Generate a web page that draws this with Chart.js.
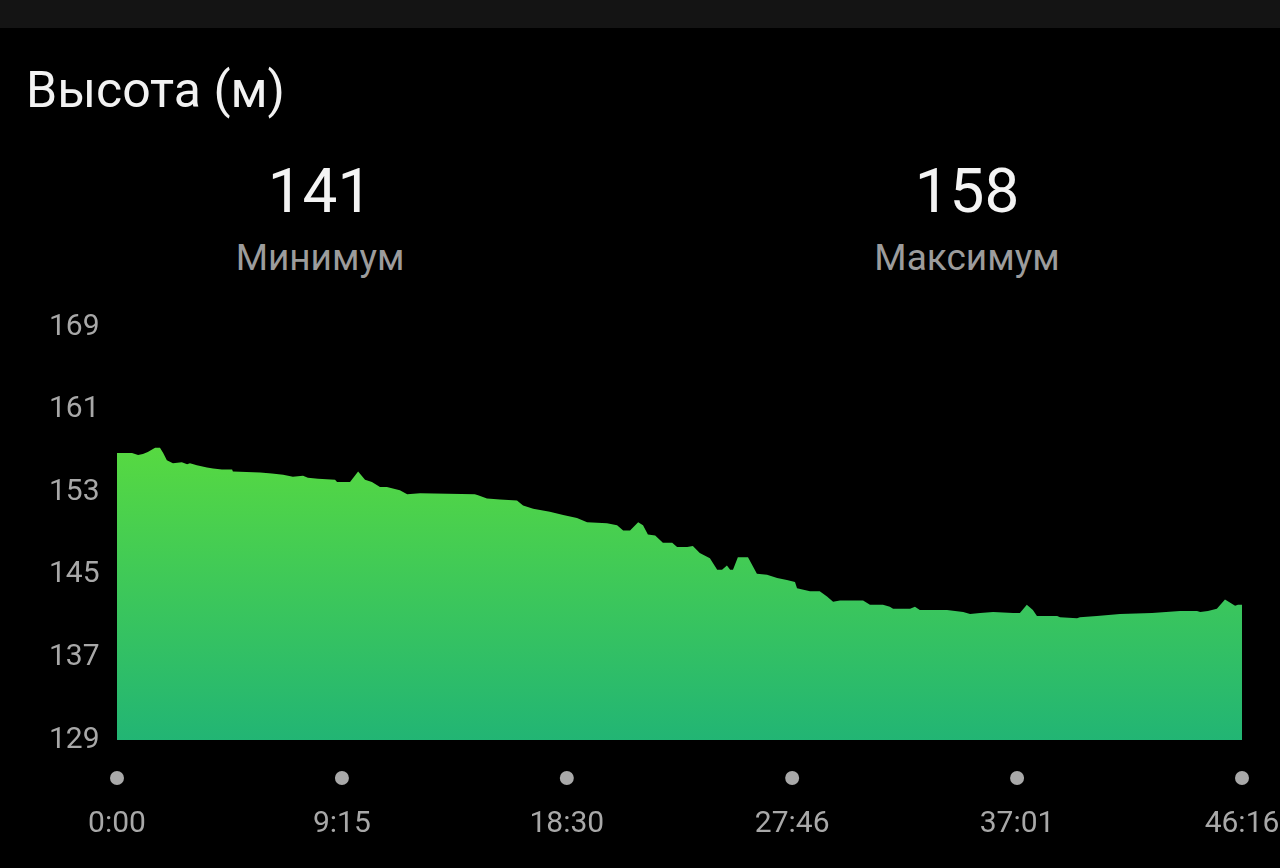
<!DOCTYPE html>
<html>
<head>
<meta charset="utf-8">
<script src="https://cdn.jsdelivr.net/npm/chart.js@4"></script>
<style>
  html, body { margin: 0; padding: 0; background: #000; width: 1280px; height: 868px; overflow: hidden; font-family: Roboto, sans-serif; }
  .strip { position: absolute; left: 0; top: 0; width: 1280px; height: 28px; background: #141414; }
  .title { position: absolute; left: 26px; top: 65px; font-size: 50px; line-height: 1; color: #f2f2f2; }
  .stat { position: absolute; width: 400px; text-align: center; }
  .stat .num { position: absolute; left: 0; width: 400px; top: 0; font-size: 62px; line-height: 1; color: #f4f4f4; }
  .stat .lbl { position: absolute; left: 0; width: 400px; top: 79px; font-size: 37px; line-height: 1; color: #9c9c9c; }
  #wrap { position: absolute; left: 0; top: 0; width: 1280px; height: 868px; }
</style>
</head>
<body>
<div class="strip"></div>
<div class="title">Высота (м)</div>
<div class="stat" style="left:120px; top:160px;"><div class="num">141</div><div class="lbl">Минимум</div></div>
<div class="stat" style="left:767px; top:160px;"><div class="num">158</div><div class="lbl">Максимум</div></div>
<div id="wrap"><canvas id="grafico"></canvas></div>
<script>
let ctx = document.getElementById('grafico')

// tempo em segundos desde o início
const tempos = [0, 37, 52, 64, 76, 94, 106, 114, 123, 138, 160, 173, 180, 197, 222, 237, 259, 284, 286,
  353, 382, 410, 434, 459, 471, 496, 538, 543, 575, 595, 612, 629, 649, 666, 698, 716, 748, 883, 891,
  913, 945, 987, 1002, 1027, 1068, 1101, 1135, 1160, 1209, 1234, 1249, 1266, 1286, 1298, 1310, 1328,
  1347, 1370, 1382, 1407, 1421, 1438, 1463, 1481, 1493, 1505, 1513, 1520, 1532, 1557, 1579, 1604,
  1629, 1653, 1673, 1678, 1710, 1734, 1752, 1767, 1784, 1841, 1858, 1890, 1907, 1915, 1957, 1969,
  1981, 2048, 2088, 2105, 2130, 2162, 2211, 2228, 2245, 2260, 2270, 2320, 2327, 2369, 2376, 2418,
  2475, 2554, 2623, 2665, 2673, 2692, 2714, 2734, 2751, 2759, 2766, 2776]

// altitude (m)
const altitudes = [156.8, 156.8, 156.6, 156.7, 156.9, 157.3, 157.3, 156.8, 156.1, 155.8, 155.9, 155.7, 155.8,
  155.6, 155.4, 155.3, 155.2, 155.2, 155.0, 154.9, 154.8, 154.7, 154.5, 154.6, 154.4, 154.3, 154.2,
  154.0, 154.0, 155.0, 154.2, 154.0, 153.5, 153.5, 153.2, 152.8, 152.9, 152.8, 152.7, 152.4, 152.3,
  152.2, 151.7, 151.4, 151.1, 150.8, 150.5, 150.1, 150.0, 149.8, 149.3, 149.3, 150.1, 149.8, 148.9,
  148.8, 148.1, 148.1, 147.7, 147.7, 147.8, 147.1, 146.6, 145.5, 145.5, 145.9, 145.5, 145.5, 146.7,
  146.7, 145.1, 145.0, 144.7, 144.5, 144.3, 143.7, 143.4, 143.4, 142.9, 142.4, 142.5, 142.5, 142.1,
  142.1, 141.9, 141.7, 141.7, 141.9, 141.6, 141.6, 141.4, 141.2, 141.3, 141.4, 141.3, 141.3, 142.1,
  141.6, 141.0, 141.0, 140.9, 140.8, 140.9, 141.0, 141.2, 141.3, 141.5, 141.5, 141.4, 141.5, 141.7,
  142.6, 142.2, 142.0, 142.1, 142.1]

const ticksX = [0, 555, 1110, 1666, 2221, 2776]
const rotulosX = ['0:00', '9:15', '18:30', '27:46', '37:01', '46:16']
const ticksY = [129, 137, 145, 153, 161, 169]

Chart.defaults.font.family = 'Roboto, sans-serif'
Chart.defaults.font.size = 30
Chart.defaults.color = '#a8a8a8'

// bolinhas embaixo de cada marca do eixo x
const pontosEixo = {
  id: 'pontosEixo',
  afterDraw(chart) {
    const x = chart.scales.x
    const c = chart.ctx
    c.save()
    c.fillStyle = '#a9a9a9'
    ticksX.forEach(v => {
      c.beginPath()
      c.arc(x.getPixelForValue(v), chart.chartArea.bottom + 38, 7, 0, Math.PI * 2)
      c.fill()
    })
    c.restore()
  }
}

const data = {
  datasets: [{
    data: tempos.map((t, i) => ({ x: t, y: altitudes[i] })),
    fill: 'start',
    borderWidth: 0,
    pointRadius: 0,
    tension: 0,
    backgroundColor: (context) => {
      const area = context.chart.chartArea
      if (!area) return '#3fc94f'
      const y = context.chart.scales.y
      const g = context.chart.ctx.createLinearGradient(0, y.getPixelForValue(158), 0, area.bottom)
      g.addColorStop(0, '#58da40')
      g.addColorStop(1, '#22b574')
      return g
    }
  }]
}

const config = {
  type: 'line',
  data,
  options: {
    responsive: true,
    maintainAspectRatio: false,
    animation: false,
    layout: { padding: { left: 49, top: 327, right: 38, bottom: 0 } },
    plugins: { legend: { display: false }, tooltip: { enabled: false } },
    scales: {
      x: {
        type: 'linear',
        min: 0,
        max: 2776,
        grid: { display: false, drawTicks: false },
        border: { display: false },
        afterBuildTicks: (s) => { s.ticks = ticksX.map(v => ({ value: v })) },
        afterFit: (s) => { s.height = 128; s.paddingLeft = 0; s.paddingRight = 0 },
        ticks: {
          maxRotation: 0,
          padding: 66,
          autoSkip: false,
          callback: (v) => rotulosX[ticksX.indexOf(v)]
        }
      },
      y: {
        min: 129,
        max: 169,
        grid: { display: false, drawTicks: false },
        border: { display: false },
        afterBuildTicks: (s) => { s.ticks = ticksY.map(v => ({ value: v })) },
        afterFit: (s) => { s.width = 68; s.paddingTop = 0; s.paddingBottom = 0 },
        ticks: { crossAlign: 'far', padding: 0 }
      }
    }
  },
  plugins: [pontosEixo]
}

const graph = new Chart(ctx, config)
</script>
</body>
</html>
